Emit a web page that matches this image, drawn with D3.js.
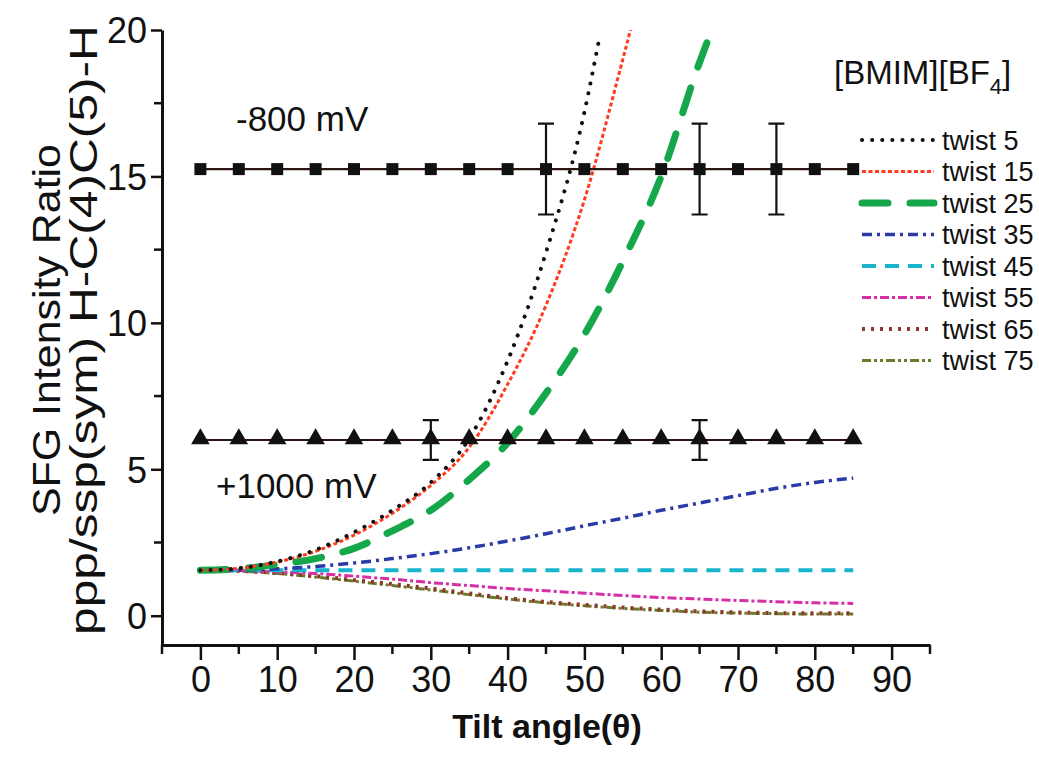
<!DOCTYPE html>
<html>
<head>
<meta charset="utf-8">
<script src="https://cdn.jsdelivr.net/npm/d3@7"></script>
<style>
  body { margin: 0; background: #fff; }
  text { font-family: "Liberation Sans", Arial, sans-serif; fill: #111; }
</style>
</head>
<body>
<svg width="1039" height="763"></svg>
<script>
// data
var tilt = [0, 5, 10, 15, 20, 25, 30, 35, 40, 45, 50, 55, 60, 65, 70, 75, 80, 85]
var neg800 = [15.25, 15.25, 15.25, 15.25, 15.25, 15.25, 15.25, 15.25, 15.25, 15.25, 15.25, 15.25, 15.25, 15.25, 15.25, 15.25, 15.25, 15.25]
var pos1000 = [6.0, 6.0, 6.0, 6.0, 6.0, 6.0, 6.0, 6.0, 6.0, 6.0, 6.0, 6.0, 6.0, 6.0, 6.0, 6.0, 6.0, 6.0]
var neg800Err = [[45, 1.55], [65, 1.55], [75, 1.55]]
var pos1000Err = [[30, 0.68], [65, 0.68]]

var twist5Tilt = [0, 5, 10, 15, 20, 25, 30, 35, 40, 45, 50, 52]
var twist5 = [1.55, 1.62, 1.85, 2.25, 2.85, 3.6, 4.55, 6.05, 8.7, 12.4, 17.2, 19.8]
var twist15Tilt = [0, 5, 10, 15, 20, 25, 30, 35, 40, 45, 50, 55, 56]
var twist15 = [1.55, 1.62, 1.83, 2.2, 2.75, 3.5, 4.45, 5.75, 7.9, 10.6, 14.2, 19.0, 20.0]
var twist25Tilt = [0, 5, 10, 15, 20, 25, 30, 35, 40, 45, 50, 55, 60, 65, 66]
var twist25 = [1.55, 1.6, 1.75, 1.95, 2.3, 2.9, 3.6, 4.65, 5.9, 7.6, 9.6, 12.1, 15.0, 18.9, 19.6]
var twist35 = [1.55, 1.56, 1.6, 1.68, 1.8, 1.95, 2.12, 2.32, 2.55, 2.8, 3.07, 3.33, 3.6, 3.85, 4.1, 4.35, 4.55, 4.7]
var twist45 = [1.55, 1.55, 1.55, 1.55, 1.55, 1.55, 1.55, 1.55, 1.55, 1.55, 1.55, 1.55, 1.55, 1.55, 1.55, 1.55, 1.55, 1.55]
var twist55 = [1.55, 1.54, 1.5, 1.44, 1.35, 1.25, 1.13, 1.03, 0.93, 0.85, 0.77, 0.69, 0.62, 0.57, 0.52, 0.48, 0.44, 0.42]
var twist65 = [1.55, 1.53, 1.46, 1.35, 1.22, 1.08, 0.93, 0.76, 0.6, 0.47, 0.37, 0.28, 0.21, 0.15, 0.11, 0.09, 0.08, 0.08]
var twist75 = [1.55, 1.52, 1.44, 1.32, 1.18, 1.03, 0.88, 0.72, 0.57, 0.44, 0.34, 0.25, 0.18, 0.12, 0.09, 0.07, 0.06, 0.06]

var xTicks = [0, 10, 20, 30, 40, 50, 60, 70, 80, 90]
var xMinor = [-5, 5, 15, 25, 35, 45, 55, 65, 75, 85, 95]
var yTicks = [0, 5, 10, 15, 20]
var yMinor = [2.5, 7.5, 12.5, 17.5]

var legendNames = ['twist 5', 'twist 15', 'twist 25', 'twist 35', 'twist 45', 'twist 55', 'twist 65', 'twist 75']

var svg = d3.select('svg')
var x = d3.scaleLinear().domain([-5, 95]).range([162, 930])
var y = d3.scaleLinear().domain([-1, 20]).range([645, 30])

// curve styles
var styles = [
    {color: '#111', width: 4, dash: '0.1,10', cap: 'round'},
    {color: '#ff3b1f', width: 3, dash: '4,2.5', cap: 'butt'},
    {color: '#14a84a', width: 7, dash: '26,22', cap: 'round'},
    {color: '#2a3aa6', width: 3.5, dash: '10,5,3,5', cap: 'butt'},
    {color: '#17b4cc', width: 4, dash: '14,9', cap: 'butt'},
    {color: '#d42ea8', width: 3, dash: '9,3,3,3', cap: 'butt'},
    {color: '#8e3a2a', width: 4, dash: '3,6', cap: 'butt'},
    {color: '#6b7a2c', width: 3, dash: '9,3,3,3,3,3', cap: 'butt'}
]
var series = [
    d3.zip(twist5Tilt, twist5),
    d3.zip(twist15Tilt, twist15),
    d3.zip(twist25Tilt, twist25),
    d3.zip(tilt, twist35),
    d3.zip(tilt, twist45),
    d3.zip(tilt, twist55),
    d3.zip(tilt, twist65),
    d3.zip(tilt, twist75)
]

svg.append('clipPath').attr('id', 'clip')
    .append('rect').attr('x', 162).attr('y', 30).attr('width', 768).attr('height', 615)

var line = d3.line()
    .x(function(d) { return x(d[0]) })
    .y(function(d) { return y(d[1]) })
    .curve(d3.curveMonotoneX)

var plot = svg.append('g').attr('clip-path', 'url(#clip)')
// draw low curves first so the steep ones sit on top
for (var i = series.length - 1; i >= 0; i--) {
    plot.append('path')
	.attr('d', line(series[i]))
	.attr('fill', 'none')
	.attr('stroke', styles[i].color)
	.attr('stroke-width', styles[i].width)
	.attr('stroke-dasharray', styles[i].dash)
	.attr('stroke-linecap', styles[i].cap)
}

// -800 mV squares and +1000 mV triangles
var flat = d3.line().x(function(d) { return x(d[0]) }).y(function(d) { return y(d[1]) })
function drawErr(errs, val) {
    errs.forEach(function(e) {
	var cx = x(e[0]), top = y(val + e[1]), bot = y(val - e[1])
	svg.append('path')
	    .attr('d', 'M' + cx + ',' + top + 'V' + bot + 'M' + (cx - 8) + ',' + top + 'h16M' + (cx - 8) + ',' + bot + 'h16')
	    .attr('stroke', '#111').attr('stroke-width', 2.2).attr('fill', 'none')
    })
}
svg.append('path').attr('d', flat(d3.zip(tilt, neg800)))
    .attr('stroke', '#2a1512').attr('stroke-width', 2.2).attr('fill', 'none')
drawErr(neg800Err, neg800[0])
svg.selectAll('.sq').data(d3.zip(tilt, neg800)).enter().append('rect')
    .attr('x', function(d) { return x(d[0]) - 6 })
    .attr('y', function(d) { return y(d[1]) - 6 })
    .attr('width', 12).attr('height', 12).attr('fill', '#111')

svg.append('path').attr('d', flat(d3.zip(tilt, pos1000)))
    .attr('stroke', '#2a1512').attr('stroke-width', 2.2).attr('fill', 'none')
drawErr(pos1000Err, pos1000[0])
var tri = d3.symbol().type(d3.symbolTriangle).size(150)
svg.selectAll('.tri').data(d3.zip(tilt, pos1000)).enter().append('path')
    .attr('d', tri)
    .attr('transform', function(d) { return 'translate(' + x(d[0]) + ',' + (y(d[1]) - 1) + ')' })
    .attr('fill', '#111')

// axes
var xAxis = svg.append('g').attr('transform', 'translate(0,645)')
    .call(d3.axisBottom(x).tickValues(xTicks).tickSize(15).tickPadding(6).tickSizeOuter(0))
xAxis.append('g').selectAll('line').data(xMinor).enter().append('line')
    .attr('x1', x).attr('x2', x).attr('y1', 0).attr('y2', 9)
    .attr('stroke', '#111').attr('stroke-width', 2.5)
var yAxis = svg.append('g').attr('transform', 'translate(162,0)')
    .call(d3.axisLeft(y).tickValues(yTicks).tickSize(11).tickPadding(4).tickSizeOuter(0))
yAxis.append('g').selectAll('line').data(yMinor).enter().append('line')
    .attr('y1', y).attr('y2', y).attr('x1', 0).attr('x2', -8)
    .attr('stroke', '#111').attr('stroke-width', 2.5)
;[xAxis, yAxis].forEach(function(a) {
    a.select('.domain').attr('stroke', '#111').attr('stroke-width', 3)
    a.selectAll('.tick line').attr('stroke', '#111').attr('stroke-width', 2.5)
    a.selectAll('.tick text').style('font-size', '36px').style('font-family', '"Liberation Sans", Arial, sans-serif').attr('fill', '#111')
})
yAxis.selectAll('.tick text').attr('dy', '0.36em')

// axis titles
svg.append('text').attr('x', 547).attr('y', 738).attr('text-anchor', 'middle')
    .style('font-size', '34px').style('font-weight', 'bold').text('Tilt angle(θ)')
svg.append('text').attr('transform', 'translate(60,330) rotate(-90)').attr('text-anchor', 'middle')
    .attr('textLength', 372).attr('lengthAdjust', 'spacingAndGlyphs')
    .style('font-size', '39px').text('SFG Intensity Ratio')
svg.append('text').attr('transform', 'translate(97,330) rotate(-90)').attr('text-anchor', 'middle')
    .attr('textLength', 610).attr('lengthAdjust', 'spacingAndGlyphs')
    .style('font-size', '39px').text('ppp/ssp(sym) H-C(4)C(5)-H')

// annotations
svg.append('text').attr('x', 236).attr('y', 131).style('font-size', '35px').text('-800 mV')
svg.append('text').attr('x', 216).attr('y', 498).style('font-size', '35px').text('+1000 mV')

var title = svg.append('text').attr('x', 834).attr('y', 84).style('font-size', '33px')
title.append('tspan').text('[BMIM][BF')
title.append('tspan').attr('dy', 10).style('font-size', '22px').text('4')
title.append('tspan').attr('dy', -10).text(']')

// legend
var leg = svg.append('g')
legendNames.forEach(function(name, i) {
    var ly = 140 + i * 31.5
    leg.append('line').attr('x1', 862).attr('x2', 934).attr('y1', ly).attr('y2', ly)
	.attr('stroke', styles[i].color)
	.attr('stroke-width', styles[i].width)
	.attr('stroke-dasharray', styles[i].dash)
	.attr('stroke-linecap', styles[i].cap)
    leg.append('text').attr('x', 942).attr('y', ly).attr('dy', '0.36em')
	.style('font-size', '27px').text(name)
})
</script>
</body>
</html>
